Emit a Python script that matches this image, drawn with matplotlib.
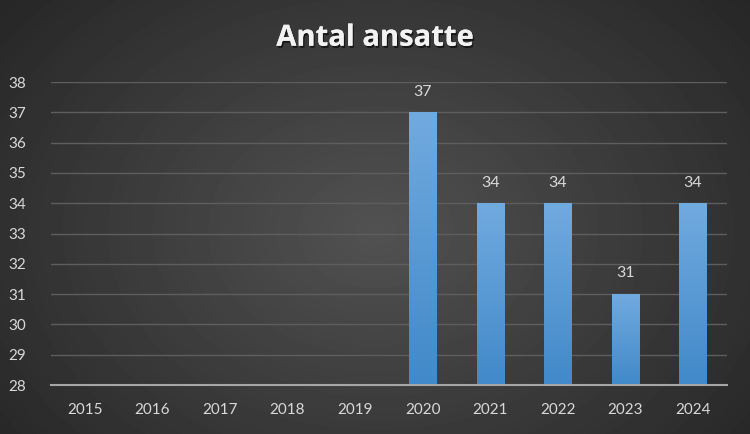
import numpy as np
import matplotlib.pyplot as plt
import matplotlib.patheffects as pe
from matplotlib.colors import LinearSegmentedColormap

# data
years = ['2015', '2016', '2017', '2018', '2019', '2020', '2021', '2022', '2023', '2024']
employees = [np.nan, np.nan, np.nan, np.nan, np.nan, 37, 34, 34, 31, 34]
y_ticks = list(range(28, 39))

plt.rcParams['font.family'] = ['Lato', 'DejaVu Sans']

fig = plt.figure(figsize=(7.5, 4.34), dpi=100)

# radial background
bg = fig.add_axes([0, 0, 1, 1])
yy, xx = np.mgrid[0:434, 0:750]
r = np.sqrt(((xx - 375) / 430.0) ** 2 + ((yy - 230) / 320.0) ** 2)
shade = np.clip(0.32 - 0.15 * r, 0.14, 0.32)
bg.imshow(shade, cmap='gray', vmin=0, vmax=1, aspect='auto', extent=[0, 1, 0, 1])
bg.axis('off')

ax = fig.add_axes([0.068, 0.1129, 0.901, 0.698])
ax.patch.set_alpha(0)
x = np.arange(len(years))
bars = ax.bar(x, employees, width=0.4, bottom=0, color='#5b9bd5', zorder=3)

# gradient fill on bars
grad = np.linspace(0, 1, 256).reshape(-1, 1)
cmap = LinearSegmentedColormap.from_list('b', ['#4189c9', '#71aadf'])
for b, v in zip(bars, employees):
    if np.isnan(v):
        continue
    im = ax.imshow(grad, cmap=cmap, aspect='auto', origin='lower',
                   extent=[b.get_x(), b.get_x() + b.get_width(), 28, v], zorder=4)
    im.set_clip_path(b)
    ax.text(b.get_x() + b.get_width() / 2, v + 0.45, f'{int(v)}', ha='center', va='bottom',
            color='#d9d9d9', fontsize=11.5)

ax.set_xlim(-0.5, len(years) - 0.5)
ax.set_ylim(28, 38)
ax.set_yticks(y_ticks)
ax.set_xticks(x)
ax.set_xticklabels(years)
ax.tick_params(colors='#d9d9d9', labelsize=11, length=0)
ax.tick_params(axis='x', pad=13)
ax.tick_params(axis='y', pad=18)
ax.grid(axis='y', color='#5e5e5e', linewidth=1, zorder=0)
for s in ['top', 'right', 'left']:
    ax.spines[s].set_visible(False)
ax.spines['bottom'].set_color('#a6a6a6')
ax.spines['bottom'].set_linewidth(1.5)
ax.spines['bottom'].set_zorder(5)

fig.text(0.5, 0.912, 'Antal ansatte', ha='center', va='center', color='#f2f2f2',
         fontsize=21, fontweight='bold', family=['Open Sans', 'DejaVu Sans'],
         path_effects=[pe.withSimplePatchShadow(offset=(1, -1.5), shadow_rgbFace='black', alpha=0.6), pe.Normal()])

fig.savefig('out.png', dpi=100)
